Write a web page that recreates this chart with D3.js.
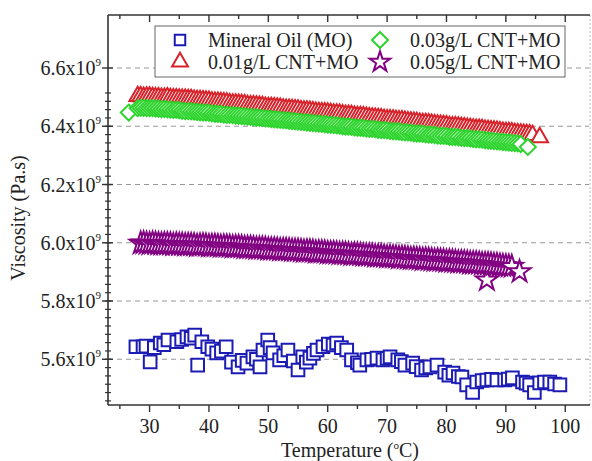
<!DOCTYPE html>
<html>
<head>
    <style>
        body { margin: 0; background-color: #ffffff; }
        text { font-family: "Liberation Serif", "Times New Roman", serif; fill: #222; }
    </style>
</head>
<body>
<script src="https://d3js.org/d3.v7.min.js"></script>
<script>
    // ---- data ----
    var moTemp = [27.7, 28.9, 29.4, 30.1, 30.8, 31.8, 32.4, 33.1, 34.6, 35.4, 36.3, 37.0, 37.6, 38.1, 38.8, 39.8,
        40.5, 41.3, 42.1, 42.9, 43.8, 44.9, 45.6, 46.4, 47.4, 48.0, 48.6, 49.1, 49.9, 50.3, 50.8, 51.9, 52.6, 53.3,
        54.2, 55.0, 55.8, 56.4, 57.0, 57.6, 58.2, 59.2, 60.1, 60.9, 61.5, 62.3, 63.2, 64.0, 65.0, 65.4, 66.6, 67.4,
        68.3, 69.3, 70.0, 70.5, 71.8, 72.4, 73.0, 74.3, 74.9, 75.8, 76.5, 77.2, 78.4, 79.7, 80.4, 81.1, 82.0, 82.6,
        83.4, 84.4, 85.1, 86.0, 86.8, 87.6, 88.5, 89.8, 90.4, 91.1, 92.8, 93.4, 94.0, 94.8, 95.7, 96.5, 97.4, 98.2, 99.1];
    var moVisc = [5.643, 5.643, 5.645, 5.591, 5.640, 5.656, 5.650, 5.666, 5.660, 5.668, 5.677, 5.672, 5.683, 5.580, 5.660, 5.643,
        5.635, 5.622, 5.628, 5.643, 5.590, 5.574, 5.596, 5.587, 5.608, 5.600, 5.574, 5.632, 5.666, 5.640, 5.622, 5.598, 5.612, 5.632,
        5.594, 5.563, 5.608, 5.590, 5.604, 5.620, 5.632, 5.643, 5.652, 5.649, 5.656, 5.640, 5.632, 5.598, 5.588, 5.580, 5.598, 5.600,
        5.604, 5.598, 5.603, 5.608, 5.598, 5.592, 5.580, 5.587, 5.575, 5.563, 5.570, 5.574, 5.580, 5.556, 5.545, 5.553, 5.541, 5.539,
        5.512, 5.486, 5.522, 5.527, 5.529, 5.531, 5.529, 5.529, 5.532, 5.536, 5.522, 5.518, 5.512, 5.486, 5.519, 5.522, 5.522, 5.515, 5.512];

    var c01Temp = [28, 28.5, 29, 29.5, 30, 30.5, 31, 31.5, 32, 32.5, 33, 33.5, 34, 34.5, 35, 35.5, 36, 36.5, 37, 37.5,
        38, 38.5, 39, 39.5, 40, 40.5, 41, 41.5, 42, 42.5, 43, 43.5, 44, 44.5, 45, 45.5, 46, 46.5, 47, 47.5, 48, 48.5,
        49, 49.5, 50, 50.5, 51, 51.5, 52, 52.5, 53, 53.5, 54, 54.5, 55, 55.5, 56, 56.5, 57, 57.5, 58, 58.5, 59, 59.5,
        60, 60.5, 61, 61.5, 62, 62.5, 63, 63.5, 64, 64.5, 65, 65.5, 66, 66.5, 67, 67.5, 68, 68.5, 69, 69.5, 70, 70.5,
        71, 71.5, 72, 72.5, 73, 73.5, 74, 74.5, 75, 75.5, 76, 76.5, 77, 77.5, 78, 78.5, 79, 79.5, 80, 80.5, 81, 81.5,
        82, 82.5, 83, 83.5, 84, 84.5, 85, 85.5, 86, 86.5, 87, 87.5, 88, 88.5, 89, 89.5, 90, 90.5, 91, 91.5, 92, 92.5,
        93, 93.5, 94, 94.5, 95.7];
    var c01Visc = [6.503, 6.502, 6.500, 6.501, 6.501, 6.499, 6.498, 6.498, 6.497, 6.497, 6.498, 6.496, 6.495, 6.495,
        6.494, 6.493, 6.493, 6.492, 6.492, 6.490, 6.489, 6.489, 6.488, 6.487, 6.486, 6.484, 6.483, 6.483, 6.482, 6.481,
        6.480, 6.478, 6.477, 6.477, 6.476, 6.475, 6.474, 6.472, 6.471, 6.471, 6.470, 6.469, 6.468, 6.466, 6.465, 6.465,
        6.464, 6.463, 6.462, 6.460, 6.459, 6.459, 6.458, 6.457, 6.456, 6.454, 6.453, 6.453, 6.452, 6.450, 6.449, 6.448,
        6.447, 6.447, 6.446, 6.444, 6.443, 6.443, 6.442, 6.440, 6.438, 6.438, 6.437, 6.435, 6.434, 6.434, 6.433, 6.431,
        6.430, 6.429, 6.428, 6.427, 6.426, 6.424, 6.423, 6.423, 6.422, 6.420, 6.419, 6.419, 6.418, 6.416, 6.415, 6.414,
        6.413, 6.411, 6.410, 6.410, 6.409, 6.407, 6.406, 6.405, 6.404, 6.403, 6.402, 6.400, 6.399, 6.399, 6.398, 6.396,
        6.395, 6.394, 6.393, 6.391, 6.390, 6.390, 6.389, 6.387, 6.386, 6.385, 6.384, 6.383, 6.382, 6.380, 6.379, 6.379,
        6.378, 6.376, 6.375, 6.374, 6.373, 6.372, 6.371, 6.369, 6.362];

    var c03Temp = [26.5, 28, 28.5, 29, 29.5, 30, 30.5, 31, 31.5, 32, 32.5, 33, 33.5, 34, 34.5, 35, 35.5, 36, 36.5, 37,
        37.5, 38, 38.5, 39, 39.5, 40, 40.5, 41, 41.5, 42, 42.5, 43, 43.5, 44, 44.5, 45, 45.5, 46, 46.5, 47, 47.5, 48,
        48.5, 49, 49.5, 50, 50.5, 51, 51.5, 52, 52.5, 53, 53.5, 54, 54.5, 55, 55.5, 56, 56.5, 57, 57.5, 58, 58.5, 59,
        59.5, 60, 60.5, 61, 61.5, 62, 62.5, 63, 63.5, 64, 64.5, 65, 65.5, 66, 66.5, 67, 67.5, 68, 68.5, 69, 69.5, 70,
        70.5, 71, 71.5, 72, 72.5, 73, 73.5, 74, 74.5, 75, 75.5, 76, 76.5, 77, 77.5, 78, 78.5, 79, 79.5, 80, 80.5, 81,
        81.5, 82, 82.5, 83, 83.5, 84, 84.5, 85, 85.5, 86, 86.5, 87, 87.5, 88, 88.5, 89, 89.5, 90, 90.5, 91, 91.5, 92,
        92.5, 93.7];
    var c03Visc = [6.447, 6.462, 6.463, 6.463, 6.462, 6.462, 6.462, 6.461, 6.460, 6.459, 6.459, 6.458, 6.457, 6.456,
        6.456, 6.455, 6.453, 6.452, 6.452, 6.451, 6.450, 6.449, 6.448, 6.447, 6.447, 6.446, 6.444, 6.443, 6.443, 6.442,
        6.440, 6.439, 6.439, 6.438, 6.437, 6.436, 6.435, 6.434, 6.433, 6.432, 6.431, 6.430, 6.429, 6.428, 6.427, 6.426,
        6.425, 6.424, 6.423, 6.422, 6.421, 6.420, 6.419, 6.418, 6.417, 6.416, 6.415, 6.414, 6.413, 6.412, 6.411, 6.410,
        6.409, 6.408, 6.407, 6.406, 6.405, 6.404, 6.403, 6.402, 6.400, 6.399, 6.399, 6.398, 6.396, 6.395, 6.395, 6.394,
        6.392, 6.391, 6.391, 6.390, 6.388, 6.387, 6.387, 6.386, 6.384, 6.383, 6.383, 6.382, 6.380, 6.379, 6.379, 6.378,
        6.376, 6.375, 6.375, 6.374, 6.372, 6.371, 6.371, 6.370, 6.368, 6.367, 6.367, 6.366, 6.364, 6.363, 6.363, 6.362,
        6.360, 6.359, 6.359, 6.358, 6.356, 6.355, 6.355, 6.354, 6.352, 6.351, 6.350, 6.349, 6.348, 6.347, 6.346, 6.345,
        6.344, 6.343, 6.342, 6.341, 6.339, 6.329];

    var c05Temp = [28.5, 29, 29.5, 30, 30.5, 31, 31.5, 32, 32.5, 33, 33.5, 34, 34.5, 35, 35.5, 36, 36.5, 37, 37.5, 38,
        38.5, 39, 39.5, 40, 40.5, 41, 41.5, 42, 42.5, 43, 43.5, 44, 44.5, 45, 45.5, 46, 46.5, 47, 47.5, 48, 48.5, 49,
        49.5, 50, 50.5, 51, 51.5, 52, 52.5, 53, 53.5, 54, 54.5, 55, 55.5, 56, 56.5, 57, 57.5, 58, 58.5, 59, 59.5, 60,
        60.5, 61, 61.5, 62, 62.5, 63, 63.5, 64, 64.5, 65, 65.5, 66, 66.5, 67, 67.5, 68, 68.5, 69, 69.5, 70, 70.5, 71,
        71.5, 72, 72.5, 73, 73.5, 74, 74.5, 75, 75.5, 76, 76.5, 77, 77.5, 78, 78.5, 79, 79.5, 80, 80.5, 81, 81.5, 82,
        82.5, 83, 83.5, 84, 84.5, 85, 85.5, 86, 86.5, 86.8, 87, 87.5, 88, 88.5, 89, 89.5, 90, 90.5, 91, 92.3];
    var c05Visc = [5.998, 5.999, 5.997, 5.996, 5.998, 5.997, 5.996, 5.995, 5.996, 5.996, 5.995, 5.993, 5.995, 5.994,
        5.994, 5.992, 5.993, 5.993, 5.992, 5.990, 5.991, 5.992, 5.991, 5.989, 5.990, 5.990, 5.989, 5.987, 5.988, 5.988,
        5.987, 5.985, 5.986, 5.986, 5.985, 5.983, 5.983, 5.983, 5.982, 5.980, 5.981, 5.981, 5.980, 5.978, 5.978, 5.978,
        5.977, 5.975, 5.976, 5.976, 5.975, 5.973, 5.973, 5.973, 5.972, 5.970, 5.971, 5.971, 5.970, 5.967, 5.968, 5.968,
        5.967, 5.965, 5.965, 5.965, 5.964, 5.962, 5.963, 5.962, 5.961, 5.959, 5.960, 5.960, 5.959, 5.957, 5.957, 5.957,
        5.956, 5.954, 5.954, 5.954, 5.953, 5.951, 5.952, 5.951, 5.950, 5.948, 5.949, 5.948, 5.947, 5.945, 5.946, 5.945,
        5.944, 5.942, 5.943, 5.942, 5.941, 5.939, 5.940, 5.939, 5.938, 5.936, 5.937, 5.936, 5.935, 5.933, 5.934, 5.933,
        5.932, 5.930, 5.930, 5.930, 5.929, 5.927, 5.927, 5.872, 5.927, 5.926, 5.924, 5.924, 5.922, 5.921, 5.920, 5.919,
        5.918, 5.900];

    var xTicks = [30, 40, 50, 60, 70, 80, 90, 100];
    var yTicks = [5.6, 5.8, 6.0, 6.2, 6.4, 6.6];
    var yTickLabels = ["5.6x10", "5.8x10", "6.0x10", "6.2x10", "6.4x10", "6.6x10"];

    var seriesNames = ["Mineral Oil (MO)", "0.01g/L CNT+MO", "0.03g/L CNT+MO", "0.05g/L CNT+MO"];
    var seriesColors = ["#1c1cb4", "#d8222a", "#2ed42e", "#820082"];

    // ---- layout ----
    var w = 592, h = 461;
    var pLeft = 108, pRight = 589, pTop = 15, pBottom = 405;

    var svg = d3.select("body").append("svg")
        .attr("width", w)
        .attr("height", h);

    var x = d3.scaleLinear().domain([23, 104]).range([pLeft, pRight]);
    var y = d3.scaleLinear().domain([5.443, 6.782]).range([pBottom, pTop]);

    // grid lines
    svg.append("g").selectAll("line")
        .data(yTicks)
        .enter().append("line")
        .attr("x1", pLeft).attr("x2", pRight)
        .attr("y1", function (d) { return y(d); })
        .attr("y2", function (d) { return y(d); })
        .attr("stroke", "#999").attr("stroke-width", 1.2)
        .attr("stroke-dasharray", "5,4");

    // faint right border
    svg.append("line")
        .attr("x1", pRight + 1).attr("x2", pRight + 1).attr("y1", pTop).attr("y2", pBottom)
        .attr("stroke", "#bbb").attr("stroke-dasharray", "2,2");

    // marker shapes
    var sq = d3.symbol().type(d3.symbolSquare).size(160)();
    var tri = d3.symbol().type(d3.symbolTriangle).size(120)();
    var dia = "M0,-8L8,0L0,8L-8,0Z";
    var star = d3.symbol().type(d3.symbolStar).size(150)();
    var shapes = [sq, tri, dia, star];

    function drawSeries(temps, visc, k) {
        var pts = temps.map(function (t, i) { return { t: t, v: visc[i] }; });
        svg.append("g").selectAll("path")
            .data(pts)
            .enter().append("path")
            .attr("d", shapes[k])
            .attr("transform", function (d) { return "translate(" + x(d.t) + "," + y(d.v) + ")"; })
            .attr("fill", "#fff")
            .attr("stroke", seriesColors[k])
            .attr("stroke-width", 2);
    }
    drawSeries(moTemp, moVisc, 0);
    drawSeries(c01Temp, c01Visc, 1);
    drawSeries(c03Temp, c03Visc, 2);
    drawSeries(c05Temp, c05Visc, 3);

    // axes frame
    var axisCol = "#333";
    svg.append("line").attr("x1", pLeft).attr("x2", pRight + 1).attr("y1", pBottom).attr("y2", pBottom)
        .attr("stroke", axisCol).attr("stroke-width", 1.6);
    svg.append("line").attr("x1", pLeft).attr("x2", pRight + 1).attr("y1", pTop).attr("y2", pTop)
        .attr("stroke", axisCol).attr("stroke-width", 1.6);
    svg.append("line").attr("x1", pLeft).attr("x2", pLeft).attr("y1", pTop).attr("y2", pBottom)
        .attr("stroke", axisCol).attr("stroke-width", 1.6);

    // x ticks (bottom outward, top inward)
    var xMinor = d3.range(25, 104, 5);
    svg.append("g").selectAll("line")
        .data(xMinor)
        .enter().append("line")
        .attr("x1", function (d) { return x(d); })
        .attr("x2", function (d) { return x(d); })
        .attr("y1", pBottom)
        .attr("y2", function (d) { return pBottom + (d % 10 === 0 ? 7 : 4); })
        .attr("stroke", axisCol).attr("stroke-width", 1.4);
    svg.append("g").selectAll("line")
        .data(xMinor)
        .enter().append("line")
        .attr("x1", function (d) { return x(d); })
        .attr("x2", function (d) { return x(d); })
        .attr("y1", pTop)
        .attr("y2", function (d) { return pTop + (d % 10 === 0 ? 7 : 4); })
        .attr("stroke", axisCol).attr("stroke-width", 1.4);

    svg.append("g").selectAll("text")
        .data(xTicks)
        .enter().append("text")
        .attr("x", function (d) { return x(d); })
        .attr("y", 433)
        .attr("text-anchor", "middle")
        .attr("font-size", "20px")
        .text(function (d) { return d; });

    // y ticks
    var yMinor = d3.range(0, 40).map(function (i) { return 5.4 + i * 0.2 / 7; })
        .filter(function (v) { return v > 5.443 && v < 6.782; });
    svg.append("g").selectAll("line")
        .data(yMinor)
        .enter().append("line")
        .attr("x1", pLeft - 3).attr("x2", pLeft + 3)
        .attr("y1", function (d) { return y(d); })
        .attr("y2", function (d) { return y(d); })
        .attr("stroke", axisCol).attr("stroke-width", 1.2);
    svg.append("g").selectAll("line")
        .data(yTicks)
        .enter().append("line")
        .attr("x1", pLeft - 6).attr("x2", pLeft + 5)
        .attr("y1", function (d) { return y(d); })
        .attr("y2", function (d) { return y(d); })
        .attr("stroke", axisCol).attr("stroke-width", 1.4);

    var yl = svg.append("g").selectAll("text")
        .data(yTicks)
        .enter().append("text")
        .attr("x", 101)
        .attr("y", function (d) { return y(d) + 7; })
        .attr("text-anchor", "end")
        .attr("font-size", "20px");
    yl.append("tspan").text(function (d, i) { return yTickLabels[i]; });
    yl.append("tspan").attr("dy", -9).attr("font-size", "11px").text("9");

    // axis titles
    var xt = svg.append("text")
        .attr("x", 350).attr("y", 457)
        .attr("text-anchor", "middle")
        .attr("font-size", "20px");
    xt.append("tspan").text("Temperature (");
    xt.append("tspan").attr("dy", -8).attr("font-size", "11px").text("o");
    xt.append("tspan").attr("dy", 8).text("C)");

    svg.append("text")
        .attr("transform", "translate(25,218) rotate(-90)")
        .attr("text-anchor", "middle")
        .attr("font-size", "20px")
        .text("Viscosity (Pa.s)");

    // legend
    var lg = svg.append("g");
    lg.append("rect")
        .attr("x", 155).attr("y", 26).attr("width", 410).attr("height", 51)
        .attr("fill", "#fff").attr("stroke", "#666").attr("stroke-width", 1);
    var legPos = [[180, 40], [180, 62], [380, 40], [380, 62]];
    var legShapes = [
        d3.symbol().type(d3.symbolSquare).size(110)(),
        d3.symbol().type(d3.symbolTriangle).size(110)(),
        "M0,-8L8,0L0,8L-8,0Z",
        d3.symbol().type(d3.symbolStar).size(130)()
    ];
    seriesNames.forEach(function (name, i) {
        lg.append("path")
            .attr("d", legShapes[i])
            .attr("transform", "translate(" + legPos[i][0] + "," + legPos[i][1] + ")")
            .attr("fill", "#fff")
            .attr("stroke", seriesColors[i])
            .attr("stroke-width", 2);
        lg.append("text")
            .attr("x", legPos[i][0] + (i < 2 ? 28 : 30))
            .attr("y", legPos[i][1] + 7)
            .attr("font-size", "20px")
            .text(name);
    });
</script>
</body>
</html>
